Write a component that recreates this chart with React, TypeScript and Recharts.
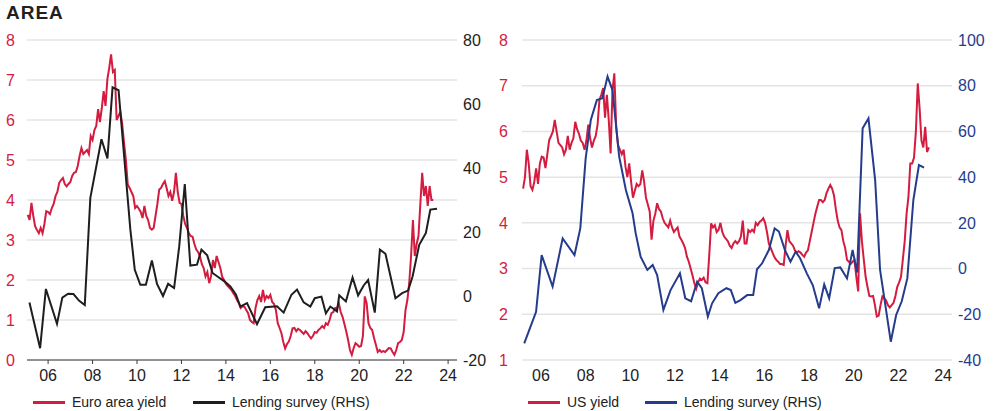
import React from "react";
import { LineChart, Line, XAxis, YAxis, CartesianGrid } from "recharts";

const FONT = '"Liberation Sans", Arial, Helvetica, sans-serif';
const RED = "#d31c3f";
const BLACK = "#1e1e1e";
const NAVY = "#253c8d";
const GRID = "#e4e4e4";

const yearTicks = [2006, 2008, 2010, 2012, 2014, 2016, 2018, 2020, 2022, 2024];

// Euro area yield, monthly from Feb 2005
const euroYieldStart = 2005 + 1 / 12;
const euroYield = [
  3.63, 3.5, 3.93, 3.6, 3.34, 3.25, 3.17, 3.3, 3.17, 3.4, 3.72,
  3.7, 3.65, 3.8, 3.9, 4.1, 4.2, 4.43, 4.5, 4.55, 4.4, 4.34, 4.4,
  4.45, 4.6, 4.68, 4.7, 4.85, 5.1, 5.3, 5.15, 5.2, 5.25, 5.15, 5.6,
  5.5, 5.75, 5.85, 6.27, 5.95, 6.3, 6.72, 6.35, 7.02, 7.3, 7.64, 7.2,
  7.25, 6.0, 6.1, 6.2, 5.9, 5.43, 5.0, 4.39, 4.3, 4.2, 4.1, 3.8,
  3.85, 3.78, 3.7, 3.55, 3.85, 3.6, 3.5, 3.3, 3.26, 3.3, 3.6, 3.9,
  4.26, 4.3, 4.4, 4.47, 4.3, 4.1, 4.2, 3.98, 4.2, 4.68, 4.2, 3.93,
  3.9, 3.6, 3.4, 3.3, 3.17, 3.1, 3.08, 2.9, 2.76, 2.7, 2.59, 2.4,
  2.3, 2.09, 2.2, 1.92, 2.1, 2.5, 2.3, 2.6, 2.45, 2.3, 2.08, 2.0,
  1.9, 1.85, 1.8, 1.75, 1.67, 1.6, 1.5, 1.42, 1.3, 1.35, 1.33, 1.25,
  1.17, 1.0, 0.95, 0.92, 1.3, 1.5, 1.6, 1.45, 1.75, 1.5, 1.6, 1.55,
  1.63, 1.45, 1.4, 1.25, 0.92, 0.8, 0.67, 0.45, 0.29, 0.4, 0.46, 0.6,
  0.79, 0.8, 0.72, 0.78, 0.75, 0.7, 0.65, 0.72, 0.67, 0.6, 0.54, 0.6,
  0.7, 0.68, 0.75, 0.79, 0.85, 0.8, 0.92, 0.88, 1.0, 1.17, 1.2, 1.3,
  1.3, 1.42, 1.2, 1.08, 0.9, 0.71, 0.5, 0.25, 0.13, 0.3, 0.42, 0.38,
  0.33, 0.35, 0.6, 1.59, 1.42, 0.92, 0.8, 0.75, 0.55, 0.38, 0.2, 0.25,
  0.2, 0.22, 0.2, 0.25, 0.3, 0.29, 0.2, 0.13, 0.25, 0.42, 0.45, 0.5,
  0.7, 1.25, 1.5, 1.92, 2.6, 3.5, 2.6, 2.9, 3.1, 3.9, 4.68, 4.1,
  4.35, 3.85, 4.35, 4.0, 4.0,
];

// Euro area lending survey (RHS)
const euroLendingDates = [
  2005.16, 2005.64, 2005.9, 2006.4, 2006.64, 2006.9, 2007.14, 2007.4, 2007.65, 2007.9,
  2008.4, 2008.67, 2008.9, 2009.17, 2009.7, 2009.9, 2010.15, 2010.4, 2010.67, 2010.9,
  2011.17, 2011.4, 2011.67, 2011.9, 2012.15, 2012.4, 2012.7, 2012.9, 2013.16, 2013.4,
  2013.7, 2013.95, 2014.2, 2014.45, 2014.65, 2014.95, 2015.4, 2015.77, 2016.3, 2016.6,
  2016.95, 2017.2, 2017.5, 2017.8, 2018.0, 2018.3, 2018.5, 2018.7, 2019.0, 2019.1,
  2019.4, 2019.7, 2019.95, 2020.2, 2020.4, 2020.7, 2020.93, 2021.18, 2021.63, 2021.93,
  2022.2, 2022.4, 2022.7, 2023.0, 2023.2, 2023.5,
];
const euroLending = [
  -2, -16.3, 2.2, -8.7, -0.5, 0.7, 0.6, -1.5, -2.8, 30.7,
  49, 43, 65.2, 64.3, 20.8, 8.2, 3.5, 3.5, 11.1, 3.8,
  0, 3.8, 2.5, 15.5, 35, 9.5, 9.8, 14.5, 12.7, 7.2,
  5.7, 4.5, 3.0, 0.5, -3.3, -2.2, -8.8, -3.5, -3.2, -5.2,
  0.4, 2, -2, -3.3, -0.7, -0.2, -5.4, -3.3, -4.8, 0.2,
  -1.7, 5.8, 0.2, 3.3, 5, -5.2, 14.5, 13.2, -0.7, 0.9,
  1.7, 6.1, 16, 19.7, 27, 27.3,
];

// US yield, monthly from Mar 2005
const usYieldStart = 2005.2;
const usYield = [
  4.75, 5.0, 5.6, 5.3, 4.8, 4.72, 4.9, 5.19, 4.85, 5.3,
  5.45, 5.43, 5.2, 5.5, 5.81, 5.9, 6.0, 6.25, 6.0, 5.75, 5.7, 5.65,
  5.5, 5.6, 5.9, 5.6, 5.75, 5.85, 6.21, 6.05, 5.95, 5.8, 5.75, 5.6,
  5.8, 6.15, 5.85, 5.65, 5.8, 5.9, 6.15, 6.69, 6.8, 6.95, 6.3, 6.8,
  6.25, 5.52, 6.9, 7.27, 6.1, 5.7, 5.6, 5.5, 5.6, 5.23, 5.0, 5.3,
  4.9, 4.55, 4.7, 4.85, 4.8, 4.85, 5.15, 4.9, 4.55, 4.4, 4.25, 3.63,
  4.05, 4.2, 4.43, 4.3, 4.25, 4.1, 4.0, 3.95, 3.9, 4.05, 3.9, 3.8,
  3.85, 3.9, 3.7, 3.63, 3.55, 3.45, 3.26, 3.15, 3.0, 2.85, 2.68, 2.56,
  2.7, 2.78, 2.75, 2.8, 2.7, 2.68, 3.3, 3.99, 3.9, 3.95, 3.8, 3.85,
  4.0, 3.8, 3.7, 3.65, 3.6, 3.5, 3.45, 3.55, 3.6, 3.55, 3.6, 3.7,
  4.05, 3.55, 3.55, 3.84, 3.8, 3.85, 3.8, 4.0, 3.95, 4.02, 4.05, 4.1,
  4.0, 3.8, 3.55, 3.45, 3.35, 3.25, 3.19, 3.15, 3.1, 3.1, 3.08, 3.5,
  3.84, 3.6, 3.55, 3.5, 3.4, 3.35, 3.38, 3.35, 3.3, 3.26, 3.35, 3.4,
  3.6, 3.8, 4.0, 4.2, 4.35, 4.5, 4.5, 4.45, 4.5, 4.65, 4.75, 4.83,
  4.75, 4.6, 4.3, 4.05, 3.9, 3.84, 3.6, 3.45, 3.19, 3.15, 3.1, 3.15,
  3.19, 2.82, 2.5, 4.21, 3.6, 3.2, 2.82, 2.6, 2.4, 2.39, 2.4, 2.2,
  1.95, 1.97, 2.2, 2.39, 2.35, 2.3, 2.2, 2.15, 2.2, 2.25, 2.4, 2.6,
  2.7, 2.82, 3.2, 3.6, 4.2, 4.57, 5.3, 5.3, 5.43, 6.0, 7.05, 6.5,
  5.8, 5.65, 6.1, 5.55, 5.65,
];

// US lending survey (RHS)
const usLendingDates = [
  2005.25, 2005.78, 2006.03, 2006.52, 2006.97, 2007.5, 2007.76, 2008.0, 2008.23, 2008.5,
  2008.75, 2008.98, 2009.2, 2009.5, 2009.8, 2010.1, 2010.24, 2010.46, 2010.76, 2011.0,
  2011.2, 2011.48, 2011.8, 2012.22, 2012.46, 2012.72, 2012.99, 2013.2, 2013.47, 2013.66,
  2013.94, 2014.3, 2014.5, 2014.7, 2014.93, 2015.23, 2015.5, 2015.67, 2015.9, 2016.2,
  2016.46, 2016.65, 2016.92, 2017.17, 2017.4, 2017.6, 2017.9, 2018.17, 2018.45, 2018.68,
  2018.9, 2019.15, 2019.4, 2019.7, 2019.95, 2020.15, 2020.4, 2020.66, 2020.96, 2021.18,
  2021.66, 2021.9, 2022.15, 2022.4, 2022.67, 2022.92, 2023.15,
];
const usLending = [
  -32.7, -18.9, 5.9, -7.9, 13.2, 5.9, 17.6, 48.2, 65, 73.7,
  74.5, 84, 78.1, 49, 34.4, 24.2, 15.4, 5.2, -0.6, 1.6,
  -2.8, -18.1, -9.4, -2.1, -13, -14.3, -5.75, -8.6, -21, -15.2,
  -10.8, -8.6, -9.4, -15, -13.8, -11.6, -11.6, -0.3, 2.3, 8.1,
  17.6, 16.2, 8.1, 3.0, 7.4, 4.5, -2.1, -7.3, -17.4, -6.9,
  -13, 0.2, 0.5, -4.3, 8.1, -1.7, 61.4, 65.7, 38.7, -0.6,
  -32, -20.3, -14.3, -4.3, 30, 45.3, 44.2,
];

const monthly = (start: number, vals: number[]) =>
  vals.map((v, i) => ({ t: start + i / 12, v }));
const paired = (dates: number[], vals: number[]) =>
  vals.map((v, i) => ({ t: dates[i], v }));

const yearLabel = (v: number) => String(v).slice(2);

function LegendItem({ color, label }: { color: string; label: string }) {
  return (
    <div style={{ display: "flex", alignItems: "center", marginRight: 0 }}>
      <div style={{ width: 32, height: 3, background: color, marginRight: 7 }} />
      <span>{label}</span>
    </div>
  );
}

function EuroChart() {
  return (
    <LineChart width={493} height={390} margin={{ top: 40, right: 0, left: 0, bottom: 0 }}>
      <CartesianGrid yAxisId="l" vertical={false} stroke={GRID} strokeWidth={1.5} />
      <XAxis
        type="number"
        dataKey="t"
        domain={[2005.05, 2024.4]}
        ticks={yearTicks}
        tickFormatter={yearLabel}
        height={30}
        tickSize={4}
        tickMargin={6}
        stroke="#3a3a3a"
        tick={{ fill: "#222", fontSize: 16, fontFamily: FONT }}
      />
      <YAxis
        yAxisId="l"
        orientation="left"
        width={27}
        domain={[0, 8]}
        ticks={[0, 1, 2, 3, 4, 5, 6, 7, 8]}
        axisLine={false}
        tickLine={false}
        tickSize={0}
        tickMargin={12}
        tick={{ fill: RED, fontSize: 16, fontFamily: FONT }}
      />
      <YAxis
        yAxisId="r"
        orientation="right"
        width={36}
        domain={[-20, 80]}
        ticks={[-20, 0, 20, 40, 60, 80]}
        axisLine={false}
        tickLine={false}
        tickSize={0}
        tickMargin={6}
        tick={{ fill: "#222", fontSize: 16, fontFamily: FONT, textAnchor: "start" }}
      />
      <Line
        yAxisId="l"
        data={monthly(euroYieldStart, euroYield)}
        dataKey="v"
        type="linear"
        stroke={RED}
        strokeWidth={2}
        dot={false}
        isAnimationActive={false}
      />
      <Line
        yAxisId="r"
        data={paired(euroLendingDates, euroLending)}
        dataKey="v"
        type="linear"
        stroke={BLACK}
        strokeWidth={2}
        dot={false}
        isAnimationActive={false}
      />
    </LineChart>
  );
}

function UsChart() {
  return (
    <LineChart width={498} height={390} margin={{ top: 40, right: 0, left: 0, bottom: 0 }}>
      <CartesianGrid yAxisId="l" vertical={false} stroke={GRID} strokeWidth={1.5} />
      <XAxis
        type="number"
        dataKey="t"
        domain={[2005.15, 2024.4]}
        ticks={yearTicks}
        tickFormatter={yearLabel}
        height={30}
        axisLine={false}
        tickLine={false}
        tickSize={0}
        tickMargin={10}
        tick={{ fill: "#222", fontSize: 16, fontFamily: FONT }}
      />
      <YAxis
        yAxisId="l"
        orientation="left"
        width={27}
        domain={[1, 8]}
        ticks={[1, 2, 3, 4, 5, 6, 7, 8]}
        axisLine={false}
        tickLine={false}
        tickSize={0}
        tickMargin={14}
        tick={{ fill: RED, fontSize: 16, fontFamily: FONT }}
      />
      <YAxis
        yAxisId="r"
        orientation="right"
        width={41}
        domain={[-40, 100]}
        ticks={[-40, -20, 0, 20, 40, 60, 80, 100]}
        axisLine={false}
        tickLine={false}
        tickSize={0}
        tickMargin={6}
        tick={{ fill: NAVY, fontSize: 16, fontFamily: FONT, textAnchor: "start" }}
      />
      <Line
        yAxisId="l"
        data={monthly(usYieldStart, usYield)}
        dataKey="v"
        type="linear"
        stroke={RED}
        strokeWidth={2}
        dot={false}
        isAnimationActive={false}
      />
      <Line
        yAxisId="r"
        data={paired(usLendingDates, usLending)}
        dataKey="v"
        type="linear"
        stroke={NAVY}
        strokeWidth={2}
        dot={false}
        isAnimationActive={false}
      />
    </LineChart>
  );
}

export default function App() {
  const legendRow: React.CSSProperties = {
    position: "absolute",
    top: 394,
    height: 16,
    display: "flex",
    alignItems: "center",
    fontSize: 14,
    color: "#222",
  };
  return (
    <div
      style={{
        position: "absolute",
        left: 0,
        top: 0,
        width: 993,
        height: 411,
        background: "#fff",
        fontFamily: FONT,
        overflow: "hidden",
      }}
    >
      <div
        style={{
          position: "absolute",
          left: 6,
          top: 3,
          fontSize: 19,
          lineHeight: 1,
          fontWeight: 700,
          letterSpacing: 1,
          color: "#231f20",
        }}
      >
        AREA
      </div>
      <div style={{ position: "absolute", left: 0, top: 0 }}>
        <EuroChart />
      </div>
      <div style={{ position: "absolute", left: 495, top: 0 }}>
        <UsChart />
      </div>
      <div style={{ ...legendRow, left: 33 }}>
        <LegendItem color={RED} label="Euro area yield" />
      </div>
      <div style={{ ...legendRow, left: 193 }}>
        <LegendItem color={BLACK} label="Lending survey (RHS)" />
      </div>
      <div style={{ ...legendRow, left: 528 }}>
        <LegendItem color={RED} label="US yield" />
      </div>
      <div style={{ ...legendRow, left: 645 }}>
        <LegendItem color={NAVY} label="Lending survey (RHS)" />
      </div>
    </div>
  );
}
